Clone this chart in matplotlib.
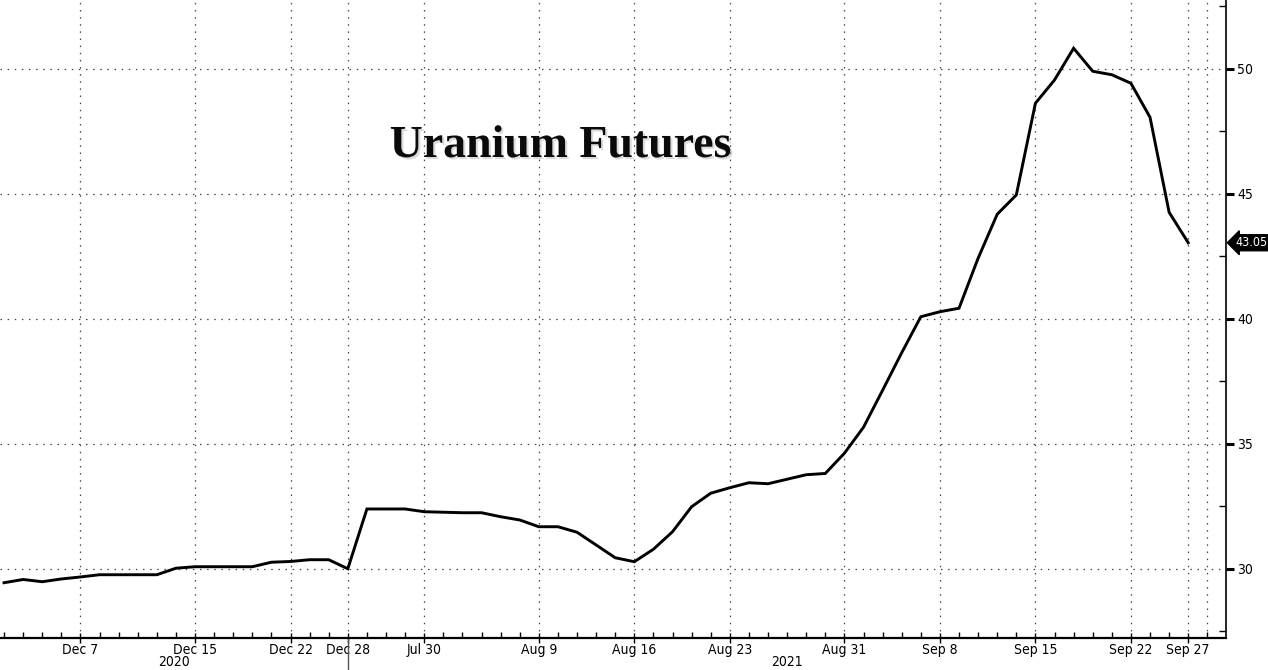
import matplotlib
matplotlib.use("Agg")
import matplotlib.pyplot as plt
import matplotlib.patheffects as pe
from matplotlib.ticker import MultipleLocator, FixedLocator
import matplotlib.transforms as mtransforms

# trading days shown on the chart (note the gap from Dec 31 to Jul 30)
dates = [
    "Dec 1", "Dec 2", "Dec 3", "Dec 4", "Dec 7", "Dec 8", "Dec 9", "Dec 10", "Dec 11",
    "Dec 14", "Dec 15", "Dec 16", "Dec 17", "Dec 18", "Dec 21", "Dec 22", "Dec 23",
    "Dec 24", "Dec 28", "Dec 29", "Dec 30", "Dec 31",
    "Jul 30", "Aug 2", "Aug 3", "Aug 4", "Aug 5", "Aug 6", "Aug 9", "Aug 10", "Aug 11",
    "Aug 12", "Aug 13", "Aug 16", "Aug 17", "Aug 18", "Aug 19", "Aug 20", "Aug 23",
    "Aug 24", "Aug 25", "Aug 26", "Aug 27", "Aug 30", "Aug 31",
    "Sep 1", "Sep 2", "Sep 3", "Sep 7", "Sep 8", "Sep 9", "Sep 10", "Sep 13", "Sep 14",
    "Sep 15", "Sep 16", "Sep 17", "Sep 20", "Sep 21", "Sep 22", "Sep 23", "Sep 24", "Sep 27",
]

prices = [
    29.45, 29.58, 29.49, 29.60, 29.68, 29.77, 29.77, 29.77, 29.77,
    30.03, 30.09, 30.09, 30.09, 30.09, 30.27, 30.30, 30.37,
    30.37, 30.01, 32.40, 32.40, 32.40,
    32.29, 32.27, 32.25, 32.25, 32.09, 31.96, 31.69, 31.69, 31.47,
    30.96, 30.45, 30.29, 30.79, 31.49, 32.49, 33.03, 33.25,
    33.45, 33.41, 33.59, 33.77, 33.82, 34.63,
    35.67, 37.15, 38.65, 40.09, 40.29, 40.43, 42.43, 44.19, 44.96,
    48.63, 49.56, 50.83, 49.91, 49.77, 49.43, 48.07, 44.27, 43.05,
]

tick_labels = ["Dec 7", "Dec 15", "Dec 22", "Dec 28", "Jul 30", "Aug 9", "Aug 16",
               "Aug 23", "Aug 31", "Sep 8", "Sep 15", "Sep 22", "Sep 27"]
year_labels = ["2020", "2021"]
year_pos = [8.9, 41.0]
year_break = "Dec 28"

x = list(range(len(prices)))
tick_pos = [dates.index(t) for t in tick_labels]

lab_kw = dict(family="DejaVu Sans", fontstretch="condensed")

fig = plt.figure(figsize=(12.68, 6.70), dpi=100, facecolor="white")
ax = fig.add_axes([0.0, 0.0478, 0.9669, 0.9522])

ax.plot(x, prices, color="black", lw=2.1, solid_joinstyle="miter", zorder=3)

ax.set_xlim(-0.21, 63.98)
ax.set_ylim(27.24, 52.76)

for s in ["top", "left"]:
    ax.spines[s].set_visible(False)
ax.spines["right"].set_linewidth(1.2)
ax.spines["bottom"].set_linewidth(1.6)

# y axis on the right
ax.yaxis.tick_right()
ax.yaxis.set_major_locator(FixedLocator([30, 35, 40, 45, 50]))
ax.yaxis.set_minor_locator(MultipleLocator(2.5))
ax.tick_params(axis="y", which="major", direction="out", length=6, width=2.2, pad=2)
ax.tick_params(axis="y", which="minor", direction="in", length=5, width=1)
ax.set_yticklabels([str(v) for v in [30, 35, 40, 45, 50]], fontsize=10, **lab_kw)

# x axis
ax.set_xticks(tick_pos)
ax.set_xticklabels(tick_labels, fontsize=10, **lab_kw)
ax.xaxis.set_minor_locator(MultipleLocator(1))
ax.tick_params(axis="x", which="major", direction="inout", length=7, width=1, pad=0)
ax.tick_params(axis="x", which="minor", direction="in", length=4, width=1)

# dotted grid
grid_kw = dict(color="#444444", lw=0.9, ls=(0, (1.2, 4.5)), zorder=1)
for v in [30, 35, 40, 45, 50]:
    ax.axhline(v, **grid_kw)
for p in tick_pos + [len(prices)]:
    ax.axvline(p, **grid_kw)

# year row under the dates
trans = mtransforms.blended_transform_factory(ax.transData, ax.transAxes)
for lab, p in zip(year_labels, year_pos):
    ax.text(p, -0.038, lab, transform=trans, ha="center", va="center",
            fontsize=10, clip_on=False, **lab_kw)
ax.plot([dates.index(year_break)] * 2, [0, -0.06], transform=trans, color="#555555",
        lw=1, clip_on=False)

# last value tag, just right of the spine
ytrans = mtransforms.blended_transform_factory(ax.transAxes, ax.transData)
tag_trans = ytrans + mtransforms.ScaledTranslation(7 / 72, 0, fig.dpi_scale_trans)
ax.text(1.0, prices[-1], f"{prices[-1]:.2f}", transform=tag_trans,
        ha="left", va="center", color="white", fontsize=9, **lab_kw,
        bbox=dict(boxstyle="larrow,pad=0.12", fc="black", ec="black"),
        clip_on=False, zorder=5)

fig.text(0.4425, 1 - 157 / 670, "Uranium Futures", ha="center", va="baseline",
         family=["Liberation Serif", "DejaVu Serif"], fontweight="bold",
         fontsize=33, color="#0a0a0a",
         path_effects=[pe.withSimplePatchShadow(offset=(1.5, -1.5),
                                                shadow_rgbFace="#999999", alpha=0.35)])

fig.savefig("out.png", dpi=100, facecolor="white")
